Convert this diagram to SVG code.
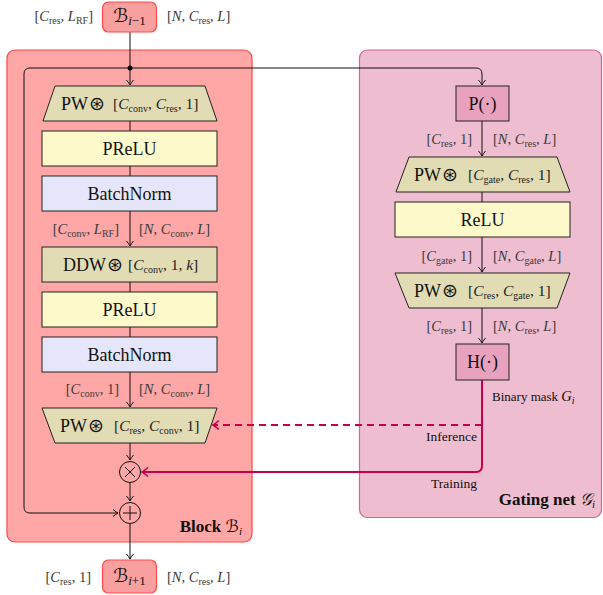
<svg xmlns="http://www.w3.org/2000/svg" width="603" height="595" viewBox="0 0 603 595">
<style>
text{font-family:"Liberation Serif","DejaVu Serif",serif;fill:#111}
.lbl{font-size:14.5px;fill:#3a3a3a}
.in{font-size:15.5px;fill:#222}
.box{font-size:18px}
.i{font-style:italic}
.sub{font-size:10px}
.sym{font-family:"DejaVu Sans",sans-serif;font-size:19px;font-weight:lighter}
.scr{font-family:"DejaVu Sans","Liberation Serif",serif;font-style:italic}
.blk{fill:#ffa6a6;stroke:#ff4545;stroke-width:1.2}
.gat{fill:#efbdd0;stroke:#d8648f;stroke-width:1.2}
.trap{fill:#e2dcb5;stroke:#222;stroke-width:1}
.yel{fill:#fdf9ca;stroke:#222;stroke-width:1}
.bn{fill:#e6e6fa;stroke:#222;stroke-width:1}
.pk{fill:#e9a2bd;stroke:#222;stroke-width:1}
.bnode{fill:#f89f9f;stroke:#ff4a4a;stroke-width:1.2}
.ln{fill:none;stroke:#111;stroke-width:1}
.cr{fill:none;stroke:#c8004b;stroke-width:2}
.circ{fill:none;stroke:#111;stroke-width:1}
</style>
<defs>
<marker id="ah" markerWidth="10" markerHeight="10" refX="7" refY="5" orient="auto" markerUnits="userSpaceOnUse">
<path d="M2,1.5 Q5,4 7,5 Q5,6 2,8.5" fill="none" stroke="#111" stroke-width="1"/>
</marker>
<marker id="ahc" markerWidth="12" markerHeight="12" refX="8" refY="6" orient="auto" markerUnits="userSpaceOnUse">
<path d="M2,1.5 Q5.5,4.5 8,6 Q5.5,7.5 2,10.5" fill="none" stroke="#c8004b" stroke-width="1.6"/>
</marker>
</defs>

<g id="containers">
<rect id="block" class="blk" x="7" y="50" width="245" height="492" rx="8"/>
<rect id="gating" class="gat" x="359.5" y="50" width="242" height="467.5" rx="8"/>
<text x="242" y="532" text-anchor="end" style="font-size:17px;font-weight:bold">Block <tspan class="scr" style="font-weight:normal">ℬ</tspan><tspan class="sub i" dy="3" style="font-weight:normal;font-size:11px">i</tspan></text>
<text x="595" y="505" text-anchor="end" style="font-size:17px;font-weight:bold">Gating net <tspan class="scr" style="font-weight:normal">𝒢</tspan><tspan class="sub i" dy="3" style="font-weight:normal;font-size:11px">i</tspan></text>
</g>

<g id="connectors">
<path class="ln" d="M130,32 V85" marker-end="url(#ah)"/>
<circle cx="130" cy="68" r="2.5" fill="#111"/>
<path class="ln" d="M130,68 H30 Q24,68 24,74 V507 Q24,513 30,513 H118" marker-end="url(#ah)"/>
<path class="ln" d="M130,68 H476 Q482,68 482,74 V85" marker-end="url(#ah)"/>
<path class="ln" d="M130,121 V131 M130,166 V176"/>
<path class="ln" d="M130,211 V246" marker-end="url(#ah)"/>
<path class="ln" d="M130,282 V292 M130,327 V337"/>
<path class="ln" d="M130,372 V407" marker-end="url(#ah)"/>
<path class="ln" d="M130,443 V460" marker-end="url(#ah)"/>
<path class="ln" d="M130,483 V501" marker-end="url(#ah)"/>
<path class="ln" d="M130,524 V559" marker-end="url(#ah)"/>
<path class="ln" d="M482,121 V156" marker-end="url(#ah)"/>
<path class="ln" d="M482,192 V202"/>
<path class="ln" d="M482,237 V272" marker-end="url(#ah)"/>
<path class="ln" d="M482,308 V343" marker-end="url(#ah)"/>
<path class="cr" d="M482,380 V466 Q482,472 476,472 H142" marker-end="url(#ahc)"/>
<path class="cr" d="M482,425 H213" stroke-dasharray="7,5" marker-end="url(#ahc)"/>
</g>

<g id="b_prev">
<rect class="bnode" x="102.5" y="2" width="54" height="30" rx="6"/>
<text x="129.5" y="22" text-anchor="middle" style="font-size:19px"><tspan class="scr">ℬ</tspan><tspan class="i" dy="3" style="font-size:13px">i</tspan><tspan style="font-size:13px">−1</tspan></text>
<text class="lbl" x="93" y="21" text-anchor="end">[<tspan class="i">C</tspan><tspan class="sub" dy="3">res</tspan><tspan dy="-3">, </tspan><tspan class="i">L</tspan><tspan class="sub" dy="3">RF</tspan><tspan dy="-3">]</tspan></text>
<text class="lbl" x="167" y="21">[<tspan class="i">N</tspan>, <tspan class="i">C</tspan><tspan class="sub" dy="3">res</tspan><tspan dy="-3">, </tspan><tspan class="i">L</tspan>]</text>
</g>

<g id="pw1">
<polygon class="trap" points="55,86 205,86 217,121 43,121"/>
<text class="box" x="61" y="110">PW<tspan class="sym" dx="1">⊛</tspan></text>
<text class="in" x="113" y="109">[<tspan class="i">C</tspan><tspan class="sub" dy="3">conv</tspan><tspan dy="-3">, </tspan><tspan class="i">C</tspan><tspan class="sub" dy="3">res</tspan><tspan dy="-3">, 1]</tspan></text>
</g>

<g id="prelu1">
<rect class="yel" x="42" y="131" width="175" height="35"/>
<text class="box" x="129.5" y="155" text-anchor="middle">PReLU</text>
</g>

<g id="bn1">
<rect class="bn" x="42" y="176" width="175" height="35"/>
<text class="box" x="129.5" y="200" text-anchor="middle">BatchNorm</text>
</g>
<text class="lbl" x="119" y="234" text-anchor="end">[<tspan class="i">C</tspan><tspan class="sub" dy="3">conv</tspan><tspan dy="-3">, </tspan><tspan class="i">L</tspan><tspan class="sub" dy="3">RF</tspan><tspan dy="-3">]</tspan></text>
<text class="lbl" x="139" y="234">[<tspan class="i">N</tspan>, <tspan class="i">C</tspan><tspan class="sub" dy="3">conv</tspan><tspan dy="-3">, </tspan><tspan class="i">L</tspan>]</text>

<g id="ddw">
<rect class="trap" x="42" y="247" width="175" height="35"/>
<text class="box" x="63" y="271">DDW<tspan class="sym" dx="1">⊛</tspan></text>
<text class="in" x="128" y="270">[<tspan class="i">C</tspan><tspan class="sub" dy="3">conv</tspan><tspan dy="-3">, 1, </tspan><tspan class="i">k</tspan>]</text>
</g>

<g id="prelu2">
<rect class="yel" x="42" y="292" width="175" height="35"/>
<text class="box" x="129.5" y="316" text-anchor="middle">PReLU</text>
</g>

<g id="bn2">
<rect class="bn" x="42" y="337" width="175" height="35"/>
<text class="box" x="129.5" y="361" text-anchor="middle">BatchNorm</text>
</g>
<text class="lbl" x="119" y="394" text-anchor="end">[<tspan class="i">C</tspan><tspan class="sub" dy="3">conv</tspan><tspan dy="-3">, 1]</tspan></text>
<text class="lbl" x="139" y="394">[<tspan class="i">N</tspan>, <tspan class="i">C</tspan><tspan class="sub" dy="3">conv</tspan><tspan dy="-3">, </tspan><tspan class="i">L</tspan>]</text>

<g id="pw3">
<polygon class="trap" points="42,408 217,408 205,443 55,443"/>
<text class="box" x="60" y="432">PW<tspan class="sym" dx="1">⊛</tspan></text>
<text class="in" x="114" y="431">[<tspan class="i">C</tspan><tspan class="sub" dy="3">res</tspan><tspan dy="-3">, </tspan><tspan class="i">C</tspan><tspan class="sub" dy="3">conv</tspan><tspan dy="-3">, 1]</tspan></text>
</g>

<g id="mul">
<circle class="circ" cx="130" cy="472" r="10.5"/>
<path class="ln" d="M125,467 L135,477 M135,467 L125,477"/>
</g>

<g id="add">
<circle class="circ" cx="130" cy="513" r="10.5"/>
<path class="ln" d="M123,513 H137 M130,506 V520"/>
</g>

<g id="b_next">
<rect class="bnode" x="102.5" y="560" width="54" height="33" rx="6"/>
<text x="129.5" y="582" text-anchor="middle" style="font-size:19px"><tspan class="scr">ℬ</tspan><tspan class="i" dy="3" style="font-size:13px">i</tspan><tspan style="font-size:13px">+1</tspan></text>
<text class="lbl" x="91" y="582" text-anchor="end">[<tspan class="i">C</tspan><tspan class="sub" dy="3">res</tspan><tspan dy="-3">, 1]</tspan></text>
<text class="lbl" x="167" y="582">[<tspan class="i">N</tspan>, <tspan class="i">C</tspan><tspan class="sub" dy="3">res</tspan><tspan dy="-3">, </tspan><tspan class="i">L</tspan>]</text>
</g>

<g id="p">
<rect class="pk" x="456" y="86" width="53" height="35"/>
<text class="box" x="482.5" y="110" text-anchor="middle">P(·)</text>
</g>
<text class="lbl" x="472" y="144" text-anchor="end">[<tspan class="i">C</tspan><tspan class="sub" dy="3">res</tspan><tspan dy="-3">, 1]</tspan></text>
<text class="lbl" x="493" y="144">[<tspan class="i">N</tspan>, <tspan class="i">C</tspan><tspan class="sub" dy="3">res</tspan><tspan dy="-3">, </tspan><tspan class="i">L</tspan>]</text>

<g id="pwg1">
<polygon class="trap" points="409,157 557,157 570,192 396,192"/>
<text class="box" x="414" y="181">PW<tspan class="sym" dx="1">⊛</tspan></text>
<text class="in" x="468" y="180">[<tspan class="i">C</tspan><tspan class="sub" dy="3">gate</tspan><tspan dy="-3">, </tspan><tspan class="i">C</tspan><tspan class="sub" dy="3">res</tspan><tspan dy="-3">, 1]</tspan></text>
</g>

<g id="relu">
<rect class="yel" x="395" y="202" width="175" height="35"/>
<text class="box" x="482.5" y="226" text-anchor="middle">ReLU</text>
</g>
<text class="lbl" x="472" y="261" text-anchor="end">[<tspan class="i">C</tspan><tspan class="sub" dy="3">gate</tspan><tspan dy="-3">, 1]</tspan></text>
<text class="lbl" x="493" y="261">[<tspan class="i">N</tspan>, <tspan class="i">C</tspan><tspan class="sub" dy="3">gate</tspan><tspan dy="-3">, </tspan><tspan class="i">L</tspan>]</text>

<g id="pwg2">
<polygon class="trap" points="395,273 570,273 557,308 409,308"/>
<text class="box" x="414" y="297">PW<tspan class="sym" dx="1">⊛</tspan></text>
<text class="in" x="468" y="296">[<tspan class="i">C</tspan><tspan class="sub" dy="3">res</tspan><tspan dy="-3">, </tspan><tspan class="i">C</tspan><tspan class="sub" dy="3">gate</tspan><tspan dy="-3">, 1]</tspan></text>
</g>
<text class="lbl" x="472" y="331" text-anchor="end">[<tspan class="i">C</tspan><tspan class="sub" dy="3">res</tspan><tspan dy="-3">, 1]</tspan></text>
<text class="lbl" x="493" y="331">[<tspan class="i">N</tspan>, <tspan class="i">C</tspan><tspan class="sub" dy="3">res</tspan><tspan dy="-3">, </tspan><tspan class="i">L</tspan>]</text>

<g id="h">
<rect class="pk" x="456" y="344" width="53" height="36"/>
<text class="box" x="482.5" y="368" text-anchor="middle">H(·)</text>
</g>

<g id="edge_labels">
<text x="492" y="401" style="font-size:13px">Binary mask <tspan class="i" style="font-size:14.5px">G</tspan><tspan class="i" dy="3" style="font-size:10px">i</tspan></text>
<text x="477" y="441" text-anchor="end" style="font-size:13.5px">Inference</text>
<text x="477" y="488" text-anchor="end" style="font-size:13.5px">Training</text>
</g>
</svg>
